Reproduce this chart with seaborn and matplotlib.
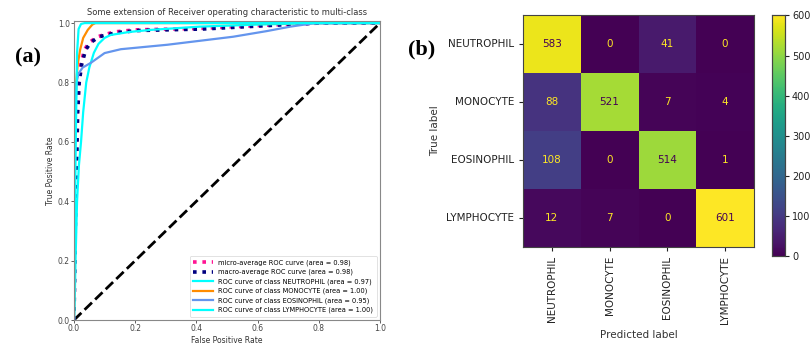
import numpy as np
import pandas as pd
import matplotlib
matplotlib.use("Agg")
import matplotlib.pyplot as plt
import seaborn as sns

# ---------------- data ----------------
micro_fpr = [0, 0.003, 0.007, 0.010, 0.015, 0.022, 0.034, 0.050, 0.077, 0.13, 0.196, 0.41, 0.63, 0.80, 1.0]
micro_tpr = [0, 0.30, 0.50, 0.70, 0.80, 0.86, 0.91, 0.935, 0.954, 0.970, 0.977, 0.982, 0.993, 1.0, 1.0]
macro_fpr = [0, 0.004, 0.008, 0.012, 0.017, 0.025, 0.038, 0.055, 0.082, 0.14, 0.21, 0.42, 0.64, 0.80, 1.0]
macro_tpr = [0, 0.30, 0.50, 0.70, 0.80, 0.86, 0.91, 0.935, 0.954, 0.968, 0.975, 0.980, 0.992, 1.0, 1.0]

neut_fpr = [0, 0.002, 0.005, 0.010, 0.016, 0.023, 0.030, 0.040, 0.050, 0.065, 0.080, 0.10, 0.12, 0.18, 0.25, 0.41, 0.60, 0.80, 1.0]
neut_tpr = [0, 0.05, 0.20, 0.40, 0.52, 0.60, 0.70, 0.80, 0.85, 0.90, 0.93, 0.95, 0.96, 0.97, 0.977, 0.988, 0.995, 1.0, 1.0]
mono_fpr = [0, 0.003, 0.007, 0.012, 0.020, 0.030, 0.045, 0.060, 0.070, 1.0]
mono_tpr = [0, 0.60, 0.80, 0.86, 0.91, 0.95, 0.977, 0.995, 1.0, 1.0]
eos_fpr = [0, 0.002, 0.005, 0.008, 0.015, 0.028, 0.055, 0.10, 0.153, 0.305, 0.52, 0.63, 0.707, 0.78, 1.0]
eos_tpr = [0, 0.40, 0.70, 0.80, 0.83, 0.85, 0.866, 0.899, 0.912, 0.927, 0.954, 0.973, 0.988, 0.999, 1.0]
lymph_fpr = [0, 0.003, 0.005, 0.010, 0.015, 0.023, 0.035, 1.0]
lymph_tpr = [0, 0.30, 0.55, 0.90, 0.98, 0.997, 1.0, 1.0]

classes = ["NEUTROPHIL", "MONOCYTE", "EOSINOPHIL", "LYMPHOCYTE"]
class_auc = [0.97, 1.00, 0.95, 1.00]
micro_auc = 0.98
macro_auc = 0.98

conf_matrix = [[583, 0, 41, 0],
               [88, 521, 7, 4],
               [108, 0, 514, 1],
               [12, 7, 0, 601]]
cbar_ticks = [0, 100, 200, 300, 400, 500, 600]

# ---------------- figure ----------------
fig = plt.figure(figsize=(8.1, 3.45), dpi=100)
ax1 = fig.add_axes([74 / 810, (345 - 320) / 345, (380 - 74) / 810, (320 - 21) / 345])

ax1.plot([0, 1], [0, 1], "k--", lw=2)
sns.lineplot(x=micro_fpr, y=micro_tpr, ax=ax1, color="deeppink", lw=2.6,
             linestyle=(0, (1, 1.6)), sort=False, estimator=None,
             label=f"micro-average ROC curve (area = {micro_auc:0.2f})")
sns.lineplot(x=macro_fpr, y=macro_tpr, ax=ax1, color="navy", lw=2.6,
             linestyle=(0, (1, 1.6)), sort=False, estimator=None,
             label=f"macro-average ROC curve (area = {macro_auc:0.2f})")
colors = ["aqua", "darkorange", "cornflowerblue", "aqua"]
curves = [(neut_fpr, neut_tpr), (mono_fpr, mono_tpr), (eos_fpr, eos_tpr), (lymph_fpr, lymph_tpr)]
for (fx, ty), c, name, a in zip(curves, colors, classes, class_auc):
    sns.lineplot(x=fx, y=ty, ax=ax1, color=c, lw=1.6, sort=False, estimator=None,
                 label=f"ROC curve of class {name} (area = {a:0.2f})")

ax1.set_xlim(0, 1.0)
ax1.set_ylim(0, 1.007)
ax1.set_xticks([0, 0.2, 0.4, 0.6, 0.8, 1.0])
ax1.set_yticks([0, 0.2, 0.4, 0.6, 0.8, 1.0])
ax1.tick_params(labelsize=5.5, length=2, width=0.6, pad=1, colors="#444444")
for s in ax1.spines.values():
    s.set_color("#888888")
    s.set_linewidth(0.8)
ax1.set_xlabel("False Positive Rate", fontsize=5.5, color="#333333")
ax1.xaxis.set_label_coords(0.5, -0.052)
ax1.set_ylabel("True Positive Rate", fontsize=5.5, labelpad=2, color="#333333")
ax1.set_title("Some extension of Receiver operating characteristic to multi-class",
              fontsize=6, pad=4, color="#333333")
leg = ax1.legend(loc="lower right", fontsize=4.8, frameon=True, handlelength=3,
                 borderpad=0.5, labelspacing=0.45)
leg.get_frame().set_linewidth(0.5)

# ---------------- confusion matrix ----------------
ax2 = fig.add_axes([523 / 810, (345 - 247) / 345, (754 - 523) / 810, (247 - 15) / 345])
cax = fig.add_axes([772 / 810, (345 - 256) / 345, 13 / 810, (256 - 15) / 345])
cm = pd.DataFrame(conf_matrix, index=classes, columns=classes)
sns.heatmap(cm, ax=ax2, cbar_ax=cax, cmap="viridis", annot=False, vmin=0,
            vmax=cm.values.max(), cbar_kws={"ticks": cbar_ticks})
vals = cm.values
thresh = (vals.max() + vals.min()) / 2
cmap = plt.get_cmap("viridis")
for i in range(vals.shape[0]):
    for j in range(vals.shape[1]):
        col = cmap(0.0) if vals[i, j] >= thresh else cmap(1.0)
        ax2.text(j + 0.5, i + 0.5, str(vals[i, j]), ha="center", va="center",
                 fontsize=7.5, color=col)
for s in ax2.spines.values():
    s.set_visible(True)
    s.set_color("#444444")
    s.set_linewidth(0.8)
ax2.tick_params(axis="both", labelsize=7.5, length=3, width=0.8, colors="#222222")
ax2.set_xticklabels(classes, rotation=90)
ax2.set_yticklabels(classes, rotation=0)
ax2.set_xlabel("Predicted label", fontsize=7.5, color="#333333")
ax2.set_ylabel("True label", fontsize=7.5, color="#333333")
cax.tick_params(labelsize=7, length=3, width=0.8, pad=2, colors="#222222")
for s in cax.spines.values():
    s.set_visible(True)
    s.set_color("#444444")
    s.set_linewidth(0.8)

# panel labels
fig.text(28 / 810, 1 - 57 / 345, "(a)", fontsize=16, fontweight="bold",
         family="Liberation Serif", ha="center", va="center")
fig.text(422 / 810, 1 - 49 / 345, "(b)", fontsize=16, fontweight="bold",
         family="Liberation Serif", ha="center", va="center")

fig.savefig("out.png", dpi=100)
